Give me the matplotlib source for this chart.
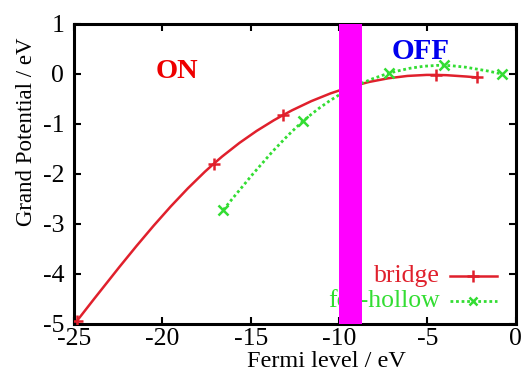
import matplotlib.pyplot as plt
import numpy as np
from matplotlib.path import Path
from matplotlib.patches import PathPatch

# data
bridge_x = [-24.85, -17.1, -13.2, -4.5, -2.2]
bridge_y = [-4.95, -1.8, -0.83, -0.02, -0.07]
hollow_x = [-16.55, -12.05, -7.2, -4.05, -0.8]
hollow_y = [-2.72, -0.95, 0.01, 0.17, 0.0]
band_x = [-10.0, -8.7]
xticks = [-25, -20, -15, -10, -5, 0]
yticks = [-5, -4, -3, -2, -1, 0, 1]

RED = "#e0202c"
GREEN = "#33dd33"

plt.rcParams["font.family"] = ["Liberation Serif", "DejaVu Serif"]
plt.rcParams["axes.unicode_minus"] = False


def spline_path(xs, ys):
    # natural cubic spline (like gnuplot csplines), each piece handed
    # to matplotlib as an exact cubic Bezier segment
    x = np.asarray(xs, float)
    y = np.asarray(ys, float)
    n = len(x)
    h = np.diff(x)
    A = np.zeros((n, n))
    r = np.zeros(n)
    A[0, 0] = A[-1, -1] = 1
    for i in range(1, n - 1):
        A[i, i - 1] = h[i - 1]
        A[i, i] = 2 * (h[i - 1] + h[i])
        A[i, i + 1] = h[i]
        r[i] = 6 * ((y[i + 1] - y[i]) / h[i] - (y[i] - y[i - 1]) / h[i - 1])
    M = np.linalg.solve(A, r)
    verts = [(x[0], y[0])]
    codes = [Path.MOVETO]
    for i in range(n - 1):
        d = (y[i + 1] - y[i]) / h[i]
        s0 = d - h[i] * (2 * M[i] + M[i + 1]) / 6
        s1 = d + h[i] * (M[i] + 2 * M[i + 1]) / 6
        verts += [(x[i] + h[i] / 3, y[i] + h[i] * s0 / 3),
                  (x[i + 1] - h[i] / 3, y[i + 1] - h[i] * s1 / 3),
                  (x[i + 1], y[i + 1])]
        codes += [Path.CURVE4] * 3
    return Path(verts, codes)


fig = plt.figure(figsize=(5.28, 3.74), dpi=100)
ax = fig.add_axes([0.140, 0.134, 0.837, 0.802])

ax.add_patch(PathPatch(spline_path(bridge_x, bridge_y), fill=False,
                       edgecolor=RED, lw=1.8, zorder=3))
ax.add_patch(PathPatch(spline_path(hollow_x, hollow_y), fill=False,
                       edgecolor=GREEN, lw=2.0, ls=(0, (1, 1)), zorder=3))
ax.plot(bridge_x, bridge_y, ls="none", marker="+", ms=9, mew=1.8,
        color=RED, zorder=4)
ax.plot(hollow_x, hollow_y, ls="none", marker="x", ms=7, mew=1.8,
        color=GREEN, zorder=4)

# legend, gnuplot style: right-aligned text + sample
ax.plot([-3.75, -1.05], [-4.05, -4.05], color=RED, lw=1.8)
ax.plot([-2.4], [-4.05], marker="+", ms=9, mew=1.8, color=RED)
ax.plot([-3.75, -1.05], [-4.55, -4.55], color=GREEN, lw=2.0, ls=(0, (1, 1)))
ax.plot([-2.4], [-4.55], marker="x", ms=6, mew=1.8, color=GREEN)
ax.text(-4.3, -4.05, "bridge", color=RED, fontsize=18.5, ha="right",
        va="center")
ax.text(-4.3, -4.55, "fcc-hollow", color=GREEN, fontsize=18.5, ha="right",
        va="center")

ax.axvspan(band_x[0], band_x[1], color="#ff00ff", lw=0, zorder=6)

ax.text(-19.2, 0.05, "ON", color="#ee0000", fontsize=20.5,
        fontweight="bold", ha="center", va="center")
ax.text(-5.4, 0.44, "OFF", color="#0000ee", fontsize=21,
        fontweight="bold", ha="center", va="center")

ax.set_xlim(-25, 0)
ax.set_ylim(-5, 1)
ax.set_xticks(xticks)
ax.set_yticks(yticks)
ax.tick_params(direction="in", top=True, right=True, length=5, width=1.5,
               labelsize=18.5, pad=7)
ax.tick_params(axis="x", pad=3)
for s in ax.spines.values():
    s.set_linewidth(2.2)

ax.set_xlabel("Fermi level / eV", fontsize=17.5)
ax.xaxis.set_label_coords(326 / 528, 1 - 351 / 374, transform=fig.transFigure)
ax.xaxis.label.set_va("top")
ax.set_ylabel("Grand Potential / eV", fontsize=16.5, va="center",
              ha="center")
ax.yaxis.set_label_coords(27 / 528, 1 - 132 / 374, transform=fig.transFigure)

fig.savefig("out.png", dpi=100)
